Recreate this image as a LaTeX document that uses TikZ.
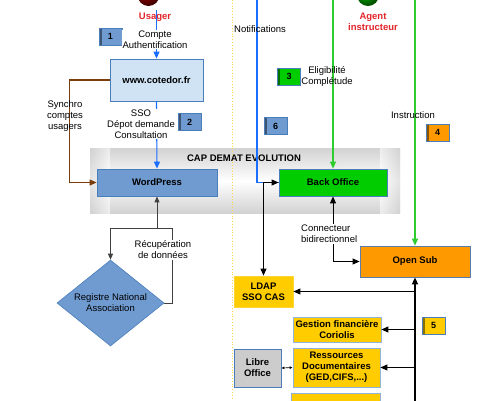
\documentclass[tikz,border=0pt]{standalone}
\usepackage{fontspec}
\setmainfont{Liberation Sans}
\usetikzlibrary{arrows.meta,shapes.geometric}
\definecolor{redtxt}{HTML}{E3242B}
\definecolor{bluelinec}{HTML}{1A6EFF}
\definecolor{brownc}{HTML}{7A3E0C}
\definecolor{greenlinec}{HTML}{2ECC2E}
\definecolor{boxblue}{HTML}{6F9BD1}
\definecolor{boxedge}{HTML}{4A7EBB}
\definecolor{webc}{HTML}{CFE3F5}
\definecolor{boc}{HTML}{00CC00}
\definecolor{orangec}{HTML}{FF9900}
\definecolor{yellowc}{HTML}{FFCC00}
\definecolor{greyboxc}{HTML}{CCCCCC}
\definecolor{dotc}{HTML}{FFD54A}
\definecolor{capc}{HTML}{D2D2D2}
\tikzset{
  every node/.style={font=\fontsize{9.5}{11}\selectfont, align=center, inner sep=0pt},
  box/.style={draw=boxedge, line width=0.8pt, font=\fontsize{9.5}{11}\selectfont\bfseries},
  actor/.style={text=redtxt, font=\fontsize{9.5}{11}\selectfont\bfseries},
  scroll/.style={draw=boxedge, fill=#1, line width=0.6pt, minimum width=23, minimum height=17,
    font=\fontsize{9}{10}\selectfont\bfseries,
    path picture={\fill[#1!55!black] (path picture bounding box.north west) rectangle ([xshift=2.5pt]path picture bounding box.south west);}},
  blueflow/.style={draw=bluelinec, line width=1.1pt},
  greenflow/.style={draw=greenlinec, line width=1.1pt},
  tip/.style={-{Triangle[length=7pt,width=6pt]}},
  tips/.style={{Triangle[length=7pt,width=6pt]}-{Triangle[length=7pt,width=6pt]}},
  link/.style={draw=black, line width=0.9pt},
}
\begin{document}
\begin{tikzpicture}[x=1pt,y=-1pt]
\useasboundingbox (0,0) rectangle (484,400);
\clip (0,0) rectangle (484,400);
\fill[white] (0,0) rectangle (484,400);

\shade[top color=capc, bottom color=white] (90,148) rectangle (400,181);
\shade[top color=white, bottom color=capc] (90,181) rectangle (400,213);
\shade[left color=capc, right color=capc!0, opacity=0.6] (90,148) rectangle (110,213);
\shade[left color=capc!0, right color=capc, opacity=0.6] (380,148) rectangle (400,213);
\draw[dotc, line width=0.8pt, dotted] (232,0) -- (232,400);
\node[font=\fontsize{9.5}{11}\selectfont\bfseries] (captitle) at (244,158) {CAP DEMAT EVOLUTION};

\node[circle, minimum size=22, shade, ball color=red!60!black] (usagerball) at (148.5,-5) {};
\node[circle, minimum size=22, shade, ball color=green!70!black] (agentball) at (368,-5) {};
\node[actor] (usager) at (155,17) {Usager};
\node[actor] (agent) at (373,22) {Agent\\instructeur};

\node[box, fill=webc, minimum width=93, minimum height=42] (cotedor) at (156.5,80) {www.cotedor.fr};
\node[box, fill=boxblue, minimum width=120, minimum height=27] (wordpress) at (157,182.5) {WordPress};
\node[box, fill=boc, minimum width=108, minimum height=27] (backoffice) at (333,182.5) {Back Office};
\node[box, fill=orangec, draw=boxedge!70!gray, minimum width=110, minimum height=31] (opensub) at (415,261.5) {Open Sub};
\node[box, fill=yellowc, draw=yellowc!80!white, minimum width=59, minimum height=31] (ldap) at (263.5,291.5) {LDAP\\SSO CAS};
\node[box, fill=yellowc, draw=boxedge!60!white, minimum width=88, minimum height=25] (gestion) at (337,329.5) {Gestion financière\\Coriolis};
\node[box, fill=yellowc, draw=boxedge!60!white, minimum width=87, minimum height=39] (ressources) at (336.5,367.5) {Ressources\\Documentaires\\(GED,CIFS,...)};
\node[box, fill=greyboxc, minimum width=47, minimum height=38] (libre) at (257.5,368) {Libre\\Office};
\node[box, fill=yellowc, draw=boxedge!60!white, minimum width=89, minimum height=16] (suite) at (335.5,401) {};
\node[diamond, draw=boxedge, fill=boxblue, line width=0.6pt, aspect=1.244, minimum width=107, minimum height=86] (registre) at (110.5,303) {Registre National\\Association};

\node[scroll=boxblue] (lab1) at (110.5,36.5) {1};
\node[scroll=boxblue] (lab2) at (189.5,122) {2};
\node[scroll=boc] (lab3) at (289,76.5) {3};
\node[scroll=orangec] (lab4) at (437.5,132.5) {4};
\node[scroll=yellowc] (lab5) at (433.5,325.5) {5};
\node[scroll=boxblue] (lab6) at (275.5,126) {6};

\coordinate (ustart) at (156.5,10);
\coordinate (ntop) at (257,0);
\coordinate (gtop1) at (333,0);
\coordinate (gtop2) at (415,0);
\coordinate (busbot) at (415,402);
\coordinate (jn) at (157,228);

\draw[blueflow, tip] (ustart) -- (cotedor.north);
\draw[blueflow, tip] (cotedor.south) -- (wordpress.north);
\draw[draw=brownc, line width=1.1pt, tip] (cotedor.west) -- ++(-40,0) |- (wordpress.west);
\draw[blueflow] (ntop) |- (backoffice.west);
\draw[link, tips] (ldap.north) |- (backoffice.west);
\draw[greenflow, tip] (gtop1) -- (backoffice.north);
\draw[greenflow, tip] (gtop2) -- (opensub.north);
\draw[link, tips] (backoffice.south) |- (opensub.west);
\draw[link, line width=2pt, tip] (busbot) -- (opensub.south);
\draw[link, tip] (ldap.east -| opensub.south) -- (ldap.east);
\draw[link, tip] (gestion.east -| opensub.south) -- (gestion.east);
\draw[link, tip] (ressources.east -| opensub.south) -- (ressources.east);
\draw[link, line width=0.6pt, {Latex[length=3pt,width=3pt]}-{Latex[length=3pt,width=3pt]}] (libre.east) -- (ressources.west);
\draw[draw=black!75, line width=0.9pt, -{Triangle[length=6pt,width=5pt]}] (registre.east) -- ++(8,0) |- (jn) -- (wordpress.south);
\draw[draw=black!75, line width=0.9pt, -{Triangle[length=6pt,width=5pt]}] (jn) -| (registre.north);

\node[fill=white, inner sep=1pt] (comptetxt) at (155,39.5) {Compte\\Authentification};
\node[fill=white, inner sep=1pt] (ssotxt) at (141,124) {SSO\\Dépot demande\\Consultation};
\node (synchrotxt) at (65,116) {Synchro\\comptes\\usagers};
\node[anchor=west] (notiftxt) at (234,29) {Notifications};
\node (eligtxt) at (327,76) {Eligibilité\\Complétude};
\node (instrtxt) at (413,115) {Instruction};
\node[fill=white, inner sep=1pt, align=left, anchor=west] (conntxt) at (300,234) {Connecteur\\bidirectionnel};
\node[fill=white, inner sep=1pt] (recuptxt) at (163,250) {Récupération\\de données};
\end{tikzpicture}
\end{document}
